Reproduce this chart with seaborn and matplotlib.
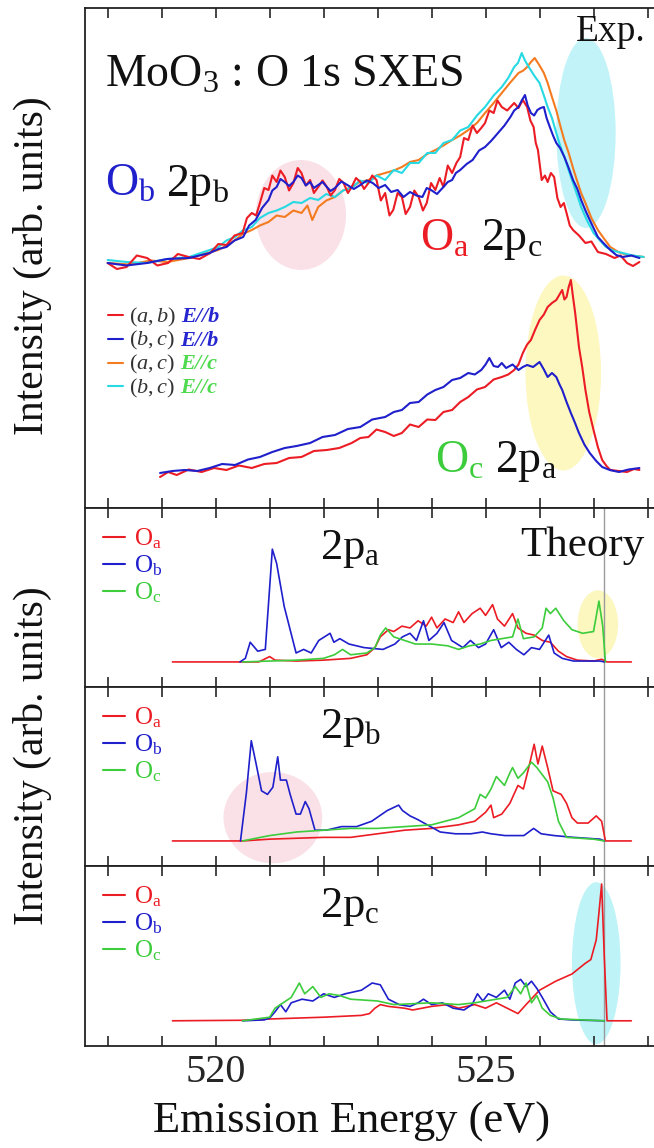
import numpy as np
import pandas as pd
import seaborn as sns
import matplotlib
matplotlib.use("Agg")
import matplotlib.pyplot as plt
from matplotlib.patches import Ellipse
from matplotlib.lines import Line2D
from matplotlib.offsetbox import TextArea, HPacker, VPacker, DrawingArea, AnchoredOffsetbox

# ---------------- data: experimental SXES (top panel) ----------------
exp_ab_Eb_E = [518.0, 518.17, 518.35, 518.54, 518.73, 518.92, 519.12, 519.3, 519.5, 519.7, 519.9, 520.05, 520.2,
               520.35, 520.5, 520.58, 520.67, 520.75, 520.82, 520.9, 520.98, 521.05, 521.13, 521.2, 521.28, 521.36,
               521.44, 521.52, 521.59, 521.67, 521.75, 521.82, 521.9, 521.98, 522.06, 522.13, 522.21, 522.29,
               522.37, 522.45, 522.52, 522.6, 522.68, 522.75, 522.83, 522.9, 522.98, 523.06, 523.14, 523.22,
               523.29, 523.37, 523.45, 523.52, 523.6, 523.68, 523.76, 523.84, 523.91, 523.99, 524.07, 524.15,
               524.22, 524.3, 524.38, 524.46, 524.53, 524.6, 524.68, 524.76, 524.84, 524.92, 524.99, 525.07,
               525.15, 525.22, 525.3, 525.4, 525.53, 525.61, 525.69, 525.77, 525.83, 525.89, 525.93, 525.97,
               526.0, 526.04, 526.1, 526.15, 526.21, 526.27, 526.33, 526.39, 526.45, 526.5, 526.56, 526.62,
               526.73, 526.85, 526.96, 527.08, 527.23, 527.39, 527.5, 527.62, 527.73, 527.85]
exp_ab_Eb_I = [0, -1.2, -0.8, 1.5, 1, -0.5, 0, 1.8, 1.2, 0.8, 2, 3.8, 3.6, 5.5, 6, 9, 10, 9.5, 12, 15, 14.6,
               17.5, 16.2, 18.5, 17.2, 14.5, 16, 19, 18, 15.5, 16.6, 14, 15.2, 16.5, 15.2, 13.5, 14.6, 16.8, 16,
               14, 15.2, 17, 16.2, 14.8, 16, 17.5, 16.6, 12.5, 14, 9.5, 10.6, 14, 13.2, 9.8, 11.2, 14.5, 13.2,
               10.5, 12, 16, 14.6, 17, 15.2, 19.5, 18, 20, 21.2, 25, 24.6, 27.5, 26, 27, 28, 30.5, 30, 32.5,
               31.2, 30.5, 32, 31, 32.6, 31.2, 28.5, 27.2, 24, 22.6, 20, 16.6, 17.5, 16.2, 18, 17.2, 13, 11.2,
               12, 10, 7.5, 6.6, 5.5, 4, 4.3, 2.2, 1.8, 1, 1.5, 0, -0.6, 0.2]

exp_bc_Eb_E = [518.0, 518.35, 518.73, 519.1, 519.51, 519.7, 519.89, 520.05, 520.2, 520.35, 520.51, 520.62, 520.74,
               520.86, 520.98, 521.05, 521.13, 521.2, 521.28, 521.36, 521.44, 521.52, 521.59, 521.67, 521.75,
               521.82, 521.9, 521.98, 522.06, 522.13, 522.21, 522.33, 522.44, 522.56, 522.68, 522.8, 522.91,
               523.02, 523.14, 523.25, 523.37, 523.48, 523.6, 523.72, 523.83, 523.91, 523.99, 524.1, 524.22,
               524.3, 524.38, 524.45, 524.53, 524.65, 524.76, 524.88, 524.99, 525.11, 525.23, 525.35, 525.46,
               525.53, 525.61, 525.67, 525.73, 525.78, 525.84, 525.9, 525.96, 526.02, 526.08, 526.13, 526.19,
               526.25, 526.31, 526.38, 526.46, 526.54, 526.62, 526.7, 526.77, 526.85, 526.93, 527.0, 527.08,
               527.2, 527.31, 527.42, 527.54, 527.7, 527.85]
exp_bc_Eb_I = [0, -0.5, 0, 0.8, 1, 1.5, 2, 2.8, 3.2, 4.5, 5.2, 7.5, 8.6, 11, 12.6, 14.5, 15.2, 16.8, 16.2, 15.4,
               16.2, 17.5, 17, 15.5, 16.2, 15, 15.6, 16.2, 15.2, 14.4, 15, 16.3, 15.6, 14.8, 15.6, 16.5, 16, 15,
               15.6, 14.2, 14.6, 13.2, 14.2, 13.5, 13.2, 15, 14.6, 13.8, 15.2, 16.2, 16.6, 18, 18.6, 19.8, 20.6,
               22.5, 23.2, 24.5, 26, 27.5, 29.2, 30.5, 31.2, 32.5, 33.6, 31.5, 30, 29.5, 30.6, 31, 31.2, 29, 27.2,
               25.5, 24, 23, 21.2, 19, 16.6, 14.8, 12.6, 10.5, 8.6, 7, 5.2, 3.8, 2.6, 1.6, 1.2, 1.5, 1]

exp_ac_Ec_E = [518.0, 518.4, 518.8, 519.1, 519.51, 519.78, 520.05, 520.2, 520.36, 520.5, 520.67, 520.82, 520.98,
               521.13, 521.28, 521.44, 521.59, 521.7, 521.79, 521.9, 522.05, 522.21, 522.36, 522.52, 522.67,
               522.83, 522.98, 523.14, 523.3, 523.45, 523.6, 523.76, 523.92, 524.07, 524.22, 524.38, 524.53,
               524.68, 524.84, 524.99, 525.15, 525.3, 525.45, 525.61, 525.7, 525.77, 525.84, 525.91, 526.0,
               526.08, 526.15, 526.23, 526.31, 526.39, 526.46, 526.54, 526.62, 526.69, 526.77, 526.85, 526.96,
               527.08, 527.2, 527.31, 527.46, 527.62, 527.78, 527.93]
exp_ac_Ec_I = [0, -0.3, 0.5, 0.2, 1, 1.8, 2.6, 3.5, 4.6, 5.8, 6.6, 7.5, 8.2, 9.5, 9.2, 10.5, 10, 11.5, 8.6, 11.2,
               12.5, 13.2, 14.5, 15.2, 16.2, 16.6, 17.5, 18, 18.5, 19.2, 20.2, 20.6, 21.8, 22.6, 23.5, 24.6, 25.5,
               26.6, 28, 30, 32, 34, 36, 38, 38.5, 39.2, 40.2, 41, 39.5, 38, 36, 33.2, 30.5, 27.2, 24.5, 22, 19,
               16.6, 14, 12, 9, 6.6, 4.8, 3.2, 2.2, 1.6, 1.4, 1.2]

exp_bc_Ec_E = [518.0, 518.35, 518.73, 519.1, 519.51, 519.78, 520.05, 520.2, 520.36, 520.5, 520.67, 520.82, 520.98,
               521.13, 521.28, 521.44, 521.59, 521.75, 521.9, 522.05, 522.21, 522.36, 522.52, 522.67, 522.83,
               522.98, 523.14, 523.3, 523.45, 523.6, 523.76, 523.92, 524.07, 524.22, 524.38, 524.53, 524.68,
               524.84, 524.99, 525.15, 525.3, 525.42, 525.53, 525.6, 525.67, 525.73, 525.8, 525.9, 526.0, 526.08,
               526.15, 526.23, 526.31, 526.38, 526.46, 526.54, 526.62, 526.7, 526.77, 526.88, 527.0, 527.12,
               527.23, 527.38, 527.54, 527.73, 527.93]
exp_bc_Ec_I = [0.6, 0.2, 0, 0.8, 1.2, 2.2, 3.2, 4.5, 5.2, 6.5, 7.2, 9, 10, 10.5, 11.2, 12.2, 12, 13, 12.6, 13.8,
               13.2, 14.5, 15, 16.5, 16, 17.5, 16.6, 18.6, 18, 20, 20, 22, 22, 24, 24.6, 26.5, 27.2, 29.5, 31.2,
               33.5, 35.2, 37, 39.2, 40, 42, 40.5, 39.2, 37.5, 36, 33.5, 31.2, 29, 26, 23.5, 21.2, 18.5, 16, 13.5,
               11.2, 8.5, 6, 4.5, 3.2, 2.4, 2, 1.5, 1.2]

# O_c 2p_a pair (lower group)
exp_low_ab_E = [518.97, 519.12, 519.28, 519.5, 519.74, 519.97, 520.2, 520.43, 520.67, 520.9, 521.13, 521.36,
                521.59, 521.82, 522.06, 522.29, 522.52, 522.68, 522.83, 522.98, 523.14, 523.3, 523.45, 523.6,
                523.76, 523.92, 524.07, 524.22, 524.38, 524.53, 524.68, 524.84, 524.99, 525.15, 525.3, 525.42,
                525.53, 525.61, 525.69, 525.77, 525.84, 525.92, 526.0, 526.08, 526.15, 526.23, 526.31, 526.37,
                526.42, 526.46, 526.5, 526.54, 526.58, 526.62, 526.66, 526.73, 526.79, 526.85, 526.92, 527.0,
                527.08, 527.16, 527.24, 527.31, 527.47, 527.62, 527.75, 527.85]
exp_low_ab_I = [-1, 0, -0.6, 0.5, 0, 0.8, 0.4, 1.3, 0.8, 1.6, 1.8, 2.8, 3, 4.2, 4.4, 4.8, 5.8, 6.8, 7, 8.5, 8,
                7.2, 7.8, 9.5, 9, 10.5, 10.4, 12, 12.4, 14, 15, 16.5, 17, 18.5, 19, 19.5, 20.4, 21.5, 23.8, 25.5,
                26.4, 28.5, 30.4, 31.5, 33, 33.8, 34.4, 35.5, 36.4, 34.5, 35, 37, 38.4, 35, 31.8, 25, 21, 16.4, 12,
                8.4, 5, 2.4, 1.2, 0.4, 0.2, 0, 0.6, 0.4]
exp_low_bc_E = [518.97, 519.2, 519.43, 519.66, 519.89, 520.12, 520.36, 520.6, 520.82, 521.05, 521.28, 521.5,
                521.75, 521.98, 522.21, 522.45, 522.68, 522.9, 523.14, 523.3, 523.45, 523.6, 523.76, 523.92,
                524.07, 524.22, 524.38, 524.53, 524.68, 524.8, 524.92, 525.0, 525.07, 525.15, 525.23, 525.3,
                525.38, 525.5, 525.61, 525.69, 525.77, 525.88, 526.0, 526.08, 526.15, 526.23, 526.31, 526.37,
                526.42, 526.5, 526.58, 526.65, 526.73, 526.83, 526.93, 527.05, 527.16, 527.3, 527.47, 527.65,
                527.85]
exp_low_bc_I = [-0.2, 0.2, 0.4, 0.2, 0.8, 1.6, 1.4, 2.5, 3, 4, 4.8, 5.2, 5.8, 7, 7.4, 8.6, 9, 10.5, 11, 12, 12.4,
                13.8, 14, 15.5, 16.4, 17, 18.4, 18.8, 19.8, 19.5, 20.4, 21.5, 22.8, 21.2, 21, 21.8, 20.8, 21.5,
                20.4, 21, 21.4, 21, 22, 20.5, 19, 19.8, 19, 17.5, 16.4, 14, 11.8, 10, 7.8, 5.5, 3.8, 2.2, 1, 0.4,
                0, 0.5, 0.8]

# ---------------- data: theory (partial DOS) ----------------
pa_Oa_E = [519.2, 520.8, 521.0, 521.1, 521.5, 522.0, 522.5, 522.8, 522.95, 523.05, 523.2, 523.3, 523.45, 523.6,
           523.75, 523.9, 524.0, 524.1, 524.25, 524.4, 524.5, 524.6, 524.75, 524.9, 525.0, 525.13, 525.22,
           525.35, 525.5, 525.6, 525.75, 525.9, 526.05, 526.2, 526.35, 526.5, 526.7, 527.0, 527.15, 527.25, 527.7]
pa_Oa_I = [0, 0, 3, 1, 0.5, 1, 2, 4, 8, 14, 18, 17, 20, 19, 23, 20, 25, 19, 24, 22, 28, 22, 27, 30, 26, 32, 24,
           20, 27, 19, 16, 15, 12, 11, 6, 3, 1, 0.5, 1.5, 0, 0]
pa_Ob_E = [520.45, 520.55, 520.64, 520.78, 520.92, 521.05, 521.13, 521.27, 521.49, 521.63, 521.77, 521.91,
           522.12, 522.19, 522.3, 522.47, 522.75, 523.1, 523.32, 523.46, 523.6, 523.72, 523.85, 523.95, 524.1,
           524.23, 524.37, 524.58, 524.72, 524.87, 525.0, 525.15, 525.29, 525.43, 525.57, 525.71, 525.85, 526.0,
           526.17, 526.27, 526.42, 526.63, 527.12, 527.2]
pa_Ob_I = [0, 2, 11, 6, 7, 63, 55, 31, 5, 7, 5, 12, 16, 11, 13, 10, 8, 7, 10, 14, 16, 12, 23, 12, 16, 22, 12, 8,
           12, 8, 10, 18, 8, 11, 7, 4, 8, 7, 15, 5, 2, 0.5, 0.5, 0]
pa_Oc_E = [520.5, 521.0, 521.5, 522.0, 522.2, 522.35, 522.5, 522.8, 522.95, 523.05, 523.15, 523.3, 523.5, 523.7,
           524.0, 524.3, 524.5, 524.7, 524.9, 525.1, 525.3, 525.5, 525.6, 525.7, 525.9, 526.05, 526.12, 526.2,
           526.3, 526.45, 526.6, 526.8, 527.0, 527.1, 527.17, 527.22]
pa_Oc_I = [0, 0.5, 1, 2, 4, 7, 4, 5, 8, 15, 19, 14, 12, 10, 10, 9, 7, 9, 10, 12, 13, 14, 24, 13, 14, 19, 30, 27,
           30, 23, 18, 16, 17, 34, 20, 0]

pb_Oa_E = [519.2, 520.5, 521.0, 522.0, 522.5, 523.0, 523.5, 524.0, 524.5, 524.8, 525.0, 525.1, 525.15, 525.3,
           525.45, 525.6, 525.7, 525.8, 525.9, 525.97, 526.05, 526.15, 526.25, 526.4, 526.5, 526.6, 526.7, 526.9,
           527.05, 527.15, 527.22, 527.7]
pb_Oa_I = [0, 0, 1, 2, 2, 4, 6, 7, 9, 11, 16, 20, 13, 15, 21, 31, 29, 41, 54, 43, 53, 41, 28, 26, 21, 13, 10, 10,
           14, 11, 0, 0]
pb_Ob_E = [520.46, 520.57, 520.66, 520.75, 520.85, 520.96, 521.06, 521.15, 521.2, 521.31, 521.38, 521.49, 521.57,
           521.66, 521.73, 521.84, 522.05, 522.33, 522.61, 522.89, 523.18, 523.39, 523.46, 523.6, 523.74, 523.92,
           524.16, 524.44, 524.73, 524.94, 525.1, 525.36, 525.71, 525.89, 526.03, 526.27, 526.63, 527.12, 527.2]
pb_Ob_I = [0, 27, 56, 43, 28, 26, 30, 47, 34, 34, 26, 15, 15, 22, 18, 6, 6, 8, 8, 11, 17, 20, 17, 14, 12, 9, 5,
           4, 4, 5, 4, 3, 3, 7, 4, 3, 2, 1, 0]
pb_Oc_E = [520.5, 521.0, 521.5, 522.0, 522.5, 523.0, 523.5, 524.0, 524.5, 524.8, 524.9, 525.0, 525.1, 525.2,
           525.35, 525.45, 525.5, 525.6, 525.7, 525.85, 525.95, 526.05, 526.15, 526.25, 526.35, 526.5, 527.0, 527.2]
pb_Oc_I = [0, 3, 5, 6, 7, 7, 8, 9, 13, 18, 26, 24, 29, 36, 31, 38, 41, 35, 38, 44, 41, 37, 33, 24, 11, 2, 1, 0]

pc_Oa_E = [519.2, 520.5, 521.0, 522.0, 522.7, 522.85, 522.95, 523.05, 523.2, 523.5, 523.65, 524.0, 524.3, 524.5,
           524.8, 525.0, 525.2, 525.4, 525.6, 525.75, 526.0, 526.3, 526.6, 526.85, 526.95, 527.05, 527.1, 527.15,
           527.2, 527.25, 527.7]
pc_Oa_I = [0, 0.3, 1, 2, 3, 4, 7, 9, 8, 7, 6, 8, 9, 7, 9, 7, 10, 7, 4, 9, 17, 22, 26, 32, 34, 45, 60, 76, 35, 0, 0]
pc_Ob_E = [520.5, 520.9, 521.0, 521.1, 521.2, 521.3, 521.4, 521.6, 521.8, 522.0, 522.2, 522.4, 522.7, 522.9,
           523.05, 523.2, 523.4, 523.6, 523.75, 523.85, 524.0, 524.2, 524.4, 524.6, 524.75, 524.85, 524.95, 525.05,
           525.2, 525.35, 525.45, 525.55, 525.65, 525.75, 525.85, 525.95, 526.05, 526.2, 526.35, 526.6, 527.2]
pc_Ob_I = [0, 0.5, 1.5, 5, 9, 5, 10, 12, 11, 15, 13, 15, 17, 21, 20, 12, 9, 8, 10, 12, 9, 10, 7, 6, 9, 15, 11,
           15, 13, 17, 12, 21, 23, 19, 22, 18, 13, 5, 1, 0.5, 0]
pc_Oc_E = [520.5, 521.0, 521.1, 521.2, 521.3, 521.4, 521.55, 521.65, 521.8, 521.95, 522.1, 522.3, 522.5, 523.0,
           523.3, 524.0, 524.5, 524.8, 525.0, 525.2, 525.4, 525.55, 525.65, 525.75, 525.85, 525.95, 526.05, 526.2,
           526.4, 527.2]
pc_Oc_I = [0, 2, 7, 9, 11, 13, 21, 15, 19, 13, 15, 14, 12, 11, 9, 10, 9, 10, 11, 12, 13, 19, 15, 21, 10, 14, 7,
           3, 1, 0]

tick_values = list(range(518, 529))
tick_labels = ["", "", "520", "", "", "", "", "525", "", "", ""]

# ---------------- style ----------------
sns.set_style("ticks")
plt.rcParams["font.family"] = ["Liberation Serif", "DejaVu Serif"]
plt.rcParams["mathtext.fontset"] = "custom"
plt.rcParams["mathtext.rm"] = "Liberation Serif"
plt.rcParams["mathtext.it"] = "Liberation Serif:italic"
plt.rcParams["mathtext.bf"] = "Liberation Serif:bold"

RED = "#ec1c24"
BLUE = "#1f1fcc"
ORANGE = "#f47b20"
CYAN = "#26d9e3"
GREEN = "#3ccc3c"
LGREEN = "#4fd94f"

W, H = 654, 1148
fig = plt.figure(figsize=(W / 100, H / 100), dpi=100)

def ax_rect(top_px, bot_px):
    left = 85 / W
    return [left, 1 - bot_px / H, 1 - left, (bot_px - top_px) / H]

ax0 = fig.add_axes(ax_rect(8, 508))
ax1 = fig.add_axes(ax_rect(508, 687))
ax2 = fig.add_axes(ax_rect(687, 866))
ax3 = fig.add_axes(ax_rect(866, 1046))
axes = [ax0, ax1, ax2, ax3]

XLIM = (517.58, 528.12)
for ax in axes:
    ax.set_xlim(*XLIM)
    ax.set_xticks(tick_values)
    ax.set_xticklabels(tick_labels)
    ax.set_yticks([])
    ax.tick_params(axis="x", direction="in", top=True, bottom=True, length=7, width=1.2,
                   labelbottom=False, labelsize=29, pad=6)
    ax.spines["right"].set_visible(False)
    for s in ["top", "bottom", "left"]:
        ax.spines[s].set_linewidth(1.3)
        ax.spines[s].set_color("#222222")
    ax.set_ylabel("")
ax3.tick_params(axis="x", labelbottom=True)

# ---------------- top panel ----------------
UP = 49.0
LOW = 7.2
ax0.set_ylim(0, 100)
ax0.add_patch(Ellipse((521.58, 58.6), 1.67, 22, facecolor="#f7cdd8", alpha=0.6, edgecolor="none", zorder=0))
ax0.add_patch(Ellipse((526.86, 75.0), 1.1, 38, facecolor="#aef0f7", alpha=0.75, edgecolor="none", zorder=0))
ax0.add_patch(Ellipse((526.44, 27.0), 1.4, 39, facecolor="#fdf4a6", alpha=0.7, edgecolor="none", zorder=0))

exp_series = [
    (exp_ac_Ec_E, exp_ac_Ec_I, ORANGE, UP),
    (exp_bc_Ec_E, exp_bc_Ec_I, CYAN, UP),
    (exp_ab_Eb_E, exp_ab_Eb_I, RED, UP),
    (exp_bc_Eb_E, exp_bc_Eb_I, BLUE, UP),
    (exp_low_ab_E, exp_low_ab_I, RED, LOW),
    (exp_low_bc_E, exp_low_bc_I, BLUE, LOW),
]
for E, I, c, off in exp_series:
    sns.lineplot(x=np.array(E), y=np.array(I) + off, ax=ax0, color=c, linewidth=1.5,
                 estimator=None, sort=False, legend=False)
ax0.set_xlabel("")

ax0.text(0.035, 0.866, r"MoO$_3$ : O 1s SXES", transform=ax0.transAxes, fontsize=33,
         va="center", ha="left", color="#111111")
ax0.text(0.862, 0.952, "Exp.", transform=ax0.transAxes, fontsize=27, va="center", ha="left",
         color="#111111")

def pair_label(ax, x, y, s1, c1, s2, size):
    t1 = TextArea(s1, textprops=dict(fontsize=size, color=c1))
    t2 = TextArea(s2, textprops=dict(fontsize=size, color="#111111"))
    hp = HPacker(children=[t1, t2], align="baseline", pad=0, sep=8)
    ab = AnchoredOffsetbox(loc="center left", child=hp, pad=0, borderpad=0, frameon=False,
                           bbox_to_anchor=(x, y), bbox_transform=ax.transAxes)
    ax.add_artist(ab)

pair_label(ax0, 0.035, 0.646, r"O$_\mathrm{b}$", BLUE, r"2p$_\mathrm{b}$", 33)
pair_label(ax0, 0.589, 0.536, r"O$_\mathrm{a}$", RED, r"2p$_\mathrm{c}$", 33)
pair_label(ax0, 0.615, 0.092, r"O$_\mathrm{c}$", GREEN, r"2p$_\mathrm{a}$", 33)

# experimental legend with two-colour labels
leg_rows = [
    (RED, r"$(a,b)$", "E//b", "#2626d0"),
    (BLUE, r"$(b,c)$", "E//b", "#2626d0"),
    (ORANGE, r"$(a,c)$", "E//c", LGREEN),
    (CYAN, r"$(b,c)$", "E//c", LGREEN),
]
rows = []
for lc, l1, l2, c2 in leg_rows:
    da = DrawingArea(11, 8, 0, 0)
    da.add_artist(Line2D([0, 11], [5, 5], color=lc, lw=1.5))
    t1 = TextArea(l1, textprops=dict(fontsize=16, color="#333333"))
    t2 = TextArea(l2, textprops=dict(fontsize=16, color=c2, style="italic", weight="bold"))
    rows.append(HPacker(children=[da, t1, t2], align="baseline", pad=0, sep=4))
vp = VPacker(children=rows, align="left", pad=0, sep=0.5)
ax0.add_artist(AnchoredOffsetbox(loc="upper left", child=vp, pad=0, borderpad=0, frameon=False,
                                 bbox_to_anchor=(0.04, 0.405), bbox_transform=ax0.transAxes))

# ---------------- theory panels ----------------
theory = [
    (ax1, [(pa_Oa_E, pa_Oa_I), (pa_Ob_E, pa_Ob_I), (pa_Oc_E, pa_Oc_I)], r"2p$_\mathrm{a}$"),
    (ax2, [(pb_Oa_E, pb_Oa_I), (pb_Ob_E, pb_Ob_I), (pb_Oc_E, pb_Oc_I)], r"2p$_\mathrm{b}$"),
    (ax3, [(pc_Oa_E, pc_Oa_I), (pc_Ob_E, pc_Ob_I), (pc_Oc_E, pc_Oc_I)], r"2p$_\mathrm{c}$"),
]
ax1.add_patch(Ellipse((527.08, 21), 0.75, 38, facecolor="#fbf5b0", alpha=0.8, edgecolor="none", zorder=0))
ax2.add_patch(Ellipse((521.06, 13), 1.83, 51, facecolor="#f7cdd8", alpha=0.6, edgecolor="none", zorder=0))
ax3.add_patch(Ellipse((527.05, 32), 0.9, 90, facecolor="#aef0f7", alpha=0.8, edgecolor="none", zorder=0))

tcolors = [RED, BLUE, GREEN]
for ax, series, lab in theory:
    ax.set_ylim(-14, 86)
    for (E, I), c in zip(series, tcolors):
        sns.lineplot(x=np.array(E), y=np.array(I), ax=ax, color=c, linewidth=1.2,
                     estimator=None, sort=False, legend=False)
    ax.set_xlabel("")
    ax.axvline(527.2, color="#9a9a9a", lw=1.0, zorder=1)
    ax.text(0.413, 0.77, lab, transform=ax.transAxes, fontsize=32, va="center", ha="left",
            color="#111111")
    handles = [Line2D([], [], color=c, lw=1.5) for c in tcolors]
    leg = ax.legend(handles, [r"O$_\mathrm{a}$", r"O$_\mathrm{b}$", r"O$_\mathrm{c}$"], loc="upper left",
                    bbox_to_anchor=(0.005, 0.98), frameon=False, fontsize=18, handlelength=0.9,
                    handletextpad=0.35, labelspacing=0.1, borderaxespad=0.2)
    for t, c in zip(leg.get_texts(), tcolors):
        t.set_color(c)
ax1.text(0.765, 0.79, "Theory", transform=ax1.transAxes, fontsize=31, va="center", ha="left",
         color="#111111")

# axis titles
fig.text(0.049, 0.769, "Intensity (arb. units)", rotation=90, fontsize=30, va="center", ha="center",
         color="#111111")
fig.text(0.049, 0.342, "Intensity (arb. units)", rotation=90, fontsize=30, va="center", ha="center",
         color="#111111")
fig.text(0.538, 0.0226, "Emission Energy (eV)", fontsize=32, va="center", ha="center", color="#111111")

fig.savefig("out.png", dpi=100)
